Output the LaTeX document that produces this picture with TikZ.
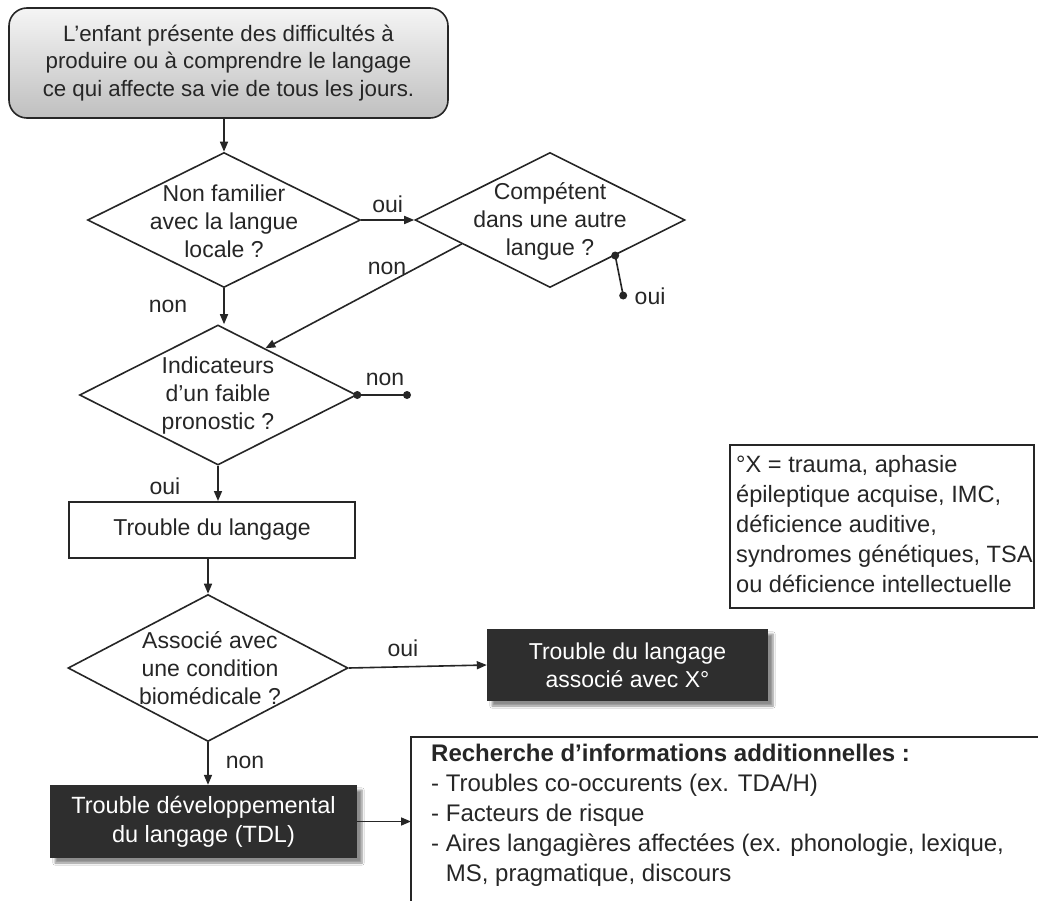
\documentclass[tikz,border=0pt]{standalone}
\usepackage{fontspec}
\setmainfont{Liberation Sans}
\usetikzlibrary{shapes.geometric,arrows.meta,shadows.blur,calc}
\definecolor{ink}{HTML}{262626}
\definecolor{boxfill}{HTML}{2E2E2E}
\begin{document}
\begin{tikzpicture}[x=1pt,y=-1pt,
  every node/.style={font=\fontsize{23}{28}\selectfont, text=ink},
  line/.style={draw=ink, line width=1.6pt},
  arr/.style={line, -{Triangle[length=10pt,width=8pt]}},
  dia/.style={diamond, draw=ink, line width=1.6pt, inner sep=0pt},
  lbl/.style={align=center, inner sep=0pt},
  startbox/.style={draw=ink, line width=1.6pt, rounded corners=18pt,
    top color=gray!8, bottom color=gray!50, align=center},
  plainbox/.style={draw=ink, line width=2pt, align=center},
  darkbox/.style={fill=boxfill, text=white, align=center,
    blur shadow={shadow xshift=5pt, shadow yshift=-5pt, shadow blur steps=6, shadow opacity=45}},
  dot/.style={circle, fill=ink, inner sep=0pt, minimum size=8pt},
  note/.style={align=left, inner sep=0pt, anchor=north west}
]
\useasboundingbox (0,0) rectangle (1038,901);
\fill[white] (0,0) rectangle (1038,901);

% start box
\node[startbox, minimum width=439pt, minimum height=110pt, font=\fontsize{22.3}{27.5}\selectfont] (s) at (228.5,63)
  {L’enfant présente des difficultés à\\produire ou à comprendre le langage\\ce qui affecte sa vie de tous les jours.};

% diamond 1
\node[dia, minimum width=273pt, minimum height=135pt] (d1) at (224,220) {};
\node[lbl] (t1) at (224,221) {Non familier\\avec la langue\\locale ?};

% diamond 2
\node[dia, minimum width=270pt, minimum height=135pt] (d2) at (550,220) {};
\node[lbl] (t2) at (550,221) {Compétent\\dans une autre\\langue ?};

% diamond 3
\node[dia, minimum width=277pt, minimum height=140pt] (d3) at (218,395) {};
\node[lbl] (t3) at (218,396) {Indicateurs\\d’un faible\\pronostic ?};

% rectangle
\node[plainbox, minimum width=286pt, minimum height=56pt] (r1) at (212,530) {Trouble du langage};

% diamond 4
\node[dia, minimum width=280pt, minimum height=147pt] (d4) at (208,668) {};
\node[lbl] (t4) at (210,668) {Associé avec\\une condition\\biomédicale ?};

% dark boxes
\node[darkbox, minimum width=281pt, minimum height=72pt] (b1) at (627.5,665) {Trouble du langage\\associé avec X°};
\node[darkbox, minimum width=307pt, minimum height=73pt, font=\fontsize{23.5}{29}\selectfont] (b2) at (203.5,821.5) {Trouble développemental\\du langage (TDL)};

% footnote box
\node[draw=ink, line width=1.8pt, minimum width=304pt, minimum height=163pt, inner sep=0pt] (fn) at (882,526.5) {};
\node[note, font=\fontsize{23.6}{30}\selectfont] (fnt) at (736,455) {°X = trauma, aphasie\\épileptique acquise, IMC,\\déficience auditive,\\syndromes génétiques, TSA\\ou déficience intellectuelle};

% research box (cut by the border)
\coordinate (rb) at (411,737);
\draw[line, line width=1.8pt] (1045,737) -- (rb) -- (411,910);
\node[note, font=\fontsize{24}{30}\selectfont] (rt) at (431,744)
  {\textbf{Recherche d’informations additionnelles :}\\- Troubles co-occurents (ex. TDA/H)\\- Facteurs de risque\\- Aires langagières affectées (ex. phonologie, lexique,\\\hphantom{-} MS, pragmatique, discours};

% connectors
\draw[arr] (s.south -| d1.north) -- (d1.north);
\draw[arr] (d1.east) -- (d2.west) node[midway, above=6pt, inner sep=0pt] (oui1) {oui};
\coordinate (n2a) at ($(d2.west)!0.35!(d2.south)$);
\coordinate (n2b) at ($(d3.north)!0.34!(d3.east)$);
\draw[arr] (n2a) -- (n2b);
\node (non2) at (387,268) {non};
\draw[arr] (d1.south) -- (d1.south |- d3.north);
\node (non1) at (168,306) {non};

\coordinate (o2a) at ($(d2.south)!0.48!(d2.east)$);
\coordinate (o2b) at ($(o2a)+(8,40)$);
\draw[line] (o2a) -- (o2b);
\node[dot] at (o2a) {};
\node[dot] at (o2b) {};
\node[anchor=west] (oui2) at ($(o2b)+(8,1)$) {oui};

\coordinate (n3b) at (407,395);
\draw[line] (d3.east) -- (n3b);
\node[dot] at (d3.east) {};
\node[dot] at (n3b) {};
\node (non3) at (385,379) {non};

\draw[arr] (d3.south) -- (d3.south |- r1.north);
\node (oui3) at (165,486) {oui};

\draw[arr] (r1.south -| d4.north) -- (d4.north);

\draw[arr] (d4.east) -- (b1.west);
\node (oui4) at (403,648) {oui};

\draw[arr] (d4.south) -- (d4.south |- b2.north);
\node (non4) at (245,762) {non};

\draw[arr] (b2.east) -- (b2.east -| rb);
\end{tikzpicture}
\end{document}
